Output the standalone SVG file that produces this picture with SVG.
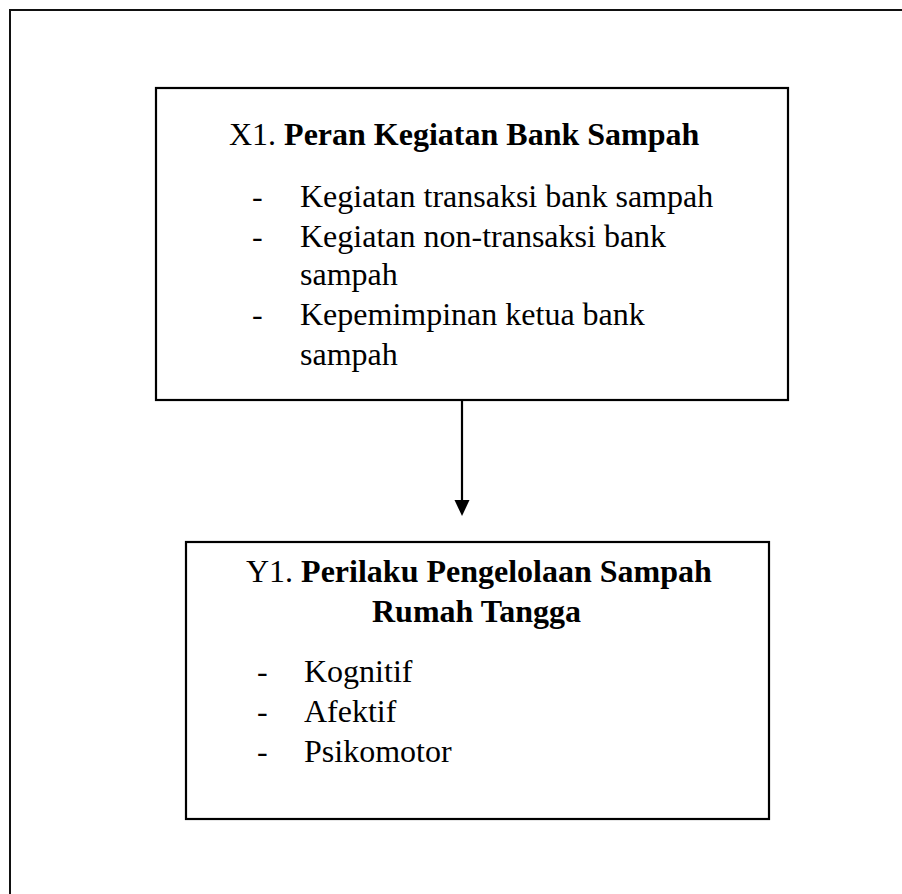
<svg xmlns="http://www.w3.org/2000/svg" width="902" height="894" viewBox="0 0 902 894">
<style>
.box{fill:#fff;stroke:#000;stroke-width:2.2}
.t{font-family:"Liberation Serif","Times New Roman",serif;font-size:32px;fill:#000}
.b{font-weight:bold}
</style>
<defs>
<marker id="ah" markerWidth="15" markerHeight="16" refX="7.5" refY="16" orient="auto" markerUnits="userSpaceOnUse" viewBox="0 0 15 16">
<path d="M0,0 L15,0 L7.5,16 Z" transform="rotate(0)" fill="#000"/>
</marker>
</defs>
<rect width="902" height="894" fill="#fff"/>
<g id="frame"><rect x="10" y="10" width="1000" height="1000" fill="none" stroke="#111" stroke-width="2"/></g>
<g id="x1">
<rect class="box" x="156" y="88" width="632" height="312"/>
<text class="t" x="229" y="145">X1. <tspan class="b">Peran Kegiatan Bank Sampah</tspan></text>
<text class="t" x="252" y="207">-</text><text class="t" x="300" y="207">Kegiatan transaksi bank sampah</text>
<text class="t" x="252" y="247">-</text><text class="t" x="300" y="247">Kegiatan non-transaksi bank</text>
<text class="t" x="300" y="285">sampah</text>
<text class="t" x="252" y="325">-</text><text class="t" x="300" y="325">Kepemimpinan ketua bank</text>
<text class="t" x="300" y="365">sampah</text>
</g>
<g id="y1">
<rect class="box" x="186" y="542" width="583" height="277"/>
<text class="t" x="246" y="582">Y1. <tspan class="b">Perilaku Pengelolaan Sampah</tspan></text>
<text class="t b" x="372" y="622">Rumah Tangga</text>
<text class="t" x="257" y="682">-</text><text class="t" x="304" y="682">Kognitif</text>
<text class="t" x="257" y="722">-</text><text class="t" x="304" y="722">Afektif</text>
<text class="t" x="257" y="762">-</text><text class="t" x="304" y="762">Psikomotor</text>
</g>
<g id="connectors">
<line x1="462" y1="399" x2="462" y2="502" stroke="#000" stroke-width="2.2"/>
<path d="M454.5,500 L469.5,500 L462,516 Z" fill="#000"/>
</g>
</svg>
